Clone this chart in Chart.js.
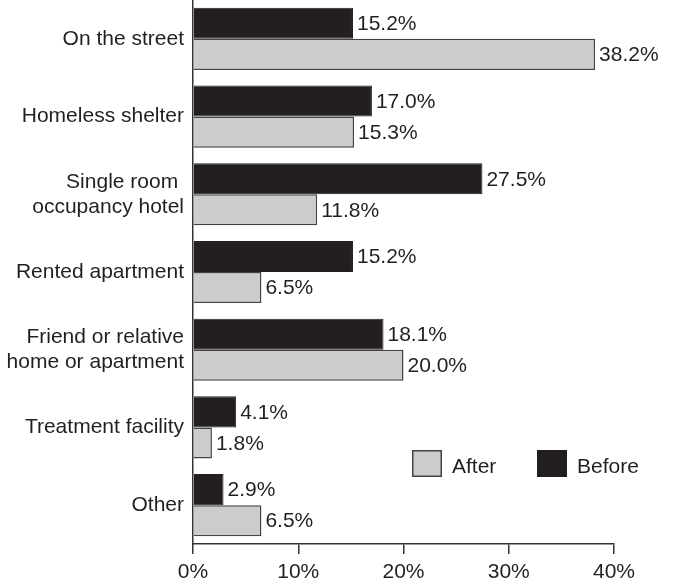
<!DOCTYPE html>
<html>
<head>
<meta charset="utf-8">
<script src="https://cdn.jsdelivr.net/npm/chart.js@4/dist/chart.umd.min.js"></script>
<style>
  html, body { margin: 0; padding: 0; background: #fff; }
  #wrap { width: 676px; height: 580px; }
</style>
</head>
<body>
<div id="wrap"><canvas id="c" width="676" height="580"></canvas></div>
<script>
// Living situation before and after, share of respondents (%)
const categories = [
  'On the street',
  'Homeless shelter',
  ['Single room ', 'occupancy hotel'],
  'Rented apartment',
  ['Friend or relative', 'home or apartment'],
  'Treatment facility',
  'Other'
];
const beforeValues = [15.2, 17.0, 27.5, 15.2, 18.1, 4.1, 2.9];
const afterValues  = [38.2, 15.3, 11.8, 6.5, 20.0, 1.8, 6.5];
const xTicks = [0, 10, 20, 30, 40];

const INK = '#231f20';
const FONT = '"Liberation Sans", Arial, Helvetica, sans-serif';
const FS = 21;

// Value labels at the end of each bar
const valueLabels = {
  id: 'valueLabels',
  afterDatasetsDraw(chart) {
    const ctx = chart.ctx;
    ctx.save();
    ctx.font = FS + 'px ' + FONT;
    ctx.fillStyle = INK;
    ctx.textAlign = 'left';
    ctx.textBaseline = 'middle';
    chart.data.datasets.forEach((ds, i) => {
      chart.getDatasetMeta(i).data.forEach((bar, j) => {
        ctx.fillText(ds.data[j].toFixed(1) + '%', bar.x + 4, bar.y + 1);
      });
    });
    ctx.restore();
  }
};

// Legend boxes placed inside the plot, lower right
const insideLegend = {
  id: 'insideLegend',
  afterDraw(chart) {
    const ctx = chart.ctx;
    const a = chart.chartArea;
    const items = [
      { text: 'After',  fill: '#cccccc', stroke: '#444444', x: a.left + 219 },
      { text: 'Before', fill: INK,       stroke: INK,       x: a.left + 344 }
    ];
    const y = a.top + 450;
    ctx.save();
    ctx.font = FS + 'px ' + FONT;
    ctx.textBaseline = 'middle';
    ctx.textAlign = 'left';
    items.forEach(it => {
      ctx.fillStyle = it.fill;
      ctx.fillRect(it.x, y, 30, 27);
      ctx.strokeStyle = it.stroke;
      ctx.lineWidth = 1.5;
      ctx.strokeRect(it.x + 0.75, y + 0.75, 28.5, 25.5);
      ctx.fillStyle = INK;
      ctx.fillText(it.text, it.x + 40, y + 17);
    });
    ctx.restore();
  }
};

new Chart(document.getElementById('c'), {
  type: 'bar',
  data: {
    labels: categories,
    datasets: [
      {
        label: 'Before',
        data: beforeValues,
        backgroundColor: INK,
        borderColor: INK,
        borderWidth: 1,
        categoryPercentage: 0.8,
        barPercentage: 1.0
      },
      {
        label: 'After',
        data: afterValues,
        backgroundColor: '#cccccc',
        borderColor: '#444444',
        borderWidth: 1.5,
        categoryPercentage: 0.8,
        barPercentage: 1.0
      }
    ]
  },
  options: {
    indexAxis: 'y',
    responsive: false,
    animation: false,
    devicePixelRatio: 1,
    layout: { padding: { top: 0, right: 62, bottom: 0, left: 0 } },
    plugins: {
      legend: { display: false },
      tooltip: { enabled: false }
    },
    scales: {
      x: {
        type: 'linear',
        min: 0,
        max: 40,
        afterBuildTicks(scale) { scale.ticks = xTicks.map(v => ({ value: v })); },
        afterFit(scale) { scale.height = 36; },
        grid: { drawOnChartArea: false, drawTicks: true, tickLength: 10, color: '#333', lineWidth: 1.5 },
        border: { display: true, color: '#333', width: 1.5 },
        ticks: {
          padding: 6,
          color: INK,
          font: { family: FONT, size: FS },
          callback: v => v + '%'
        }
      },
      y: {
        type: 'category',
        afterFit(scale) {
          scale.width = 193;
          scale.paddingTop = 0;
          scale.paddingBottom = 0;
        },
        grid: { drawOnChartArea: false, drawTicks: false },
        border: { display: true, color: '#333', width: 1.5 },
        ticks: {
          padding: 9,
          color: INK,
          font: { family: FONT, size: FS, lineHeight: 1.19 }
        }
      }
    }
  },
  plugins: [valueLabels, insideLegend]
});
</script>
</body>
</html>
